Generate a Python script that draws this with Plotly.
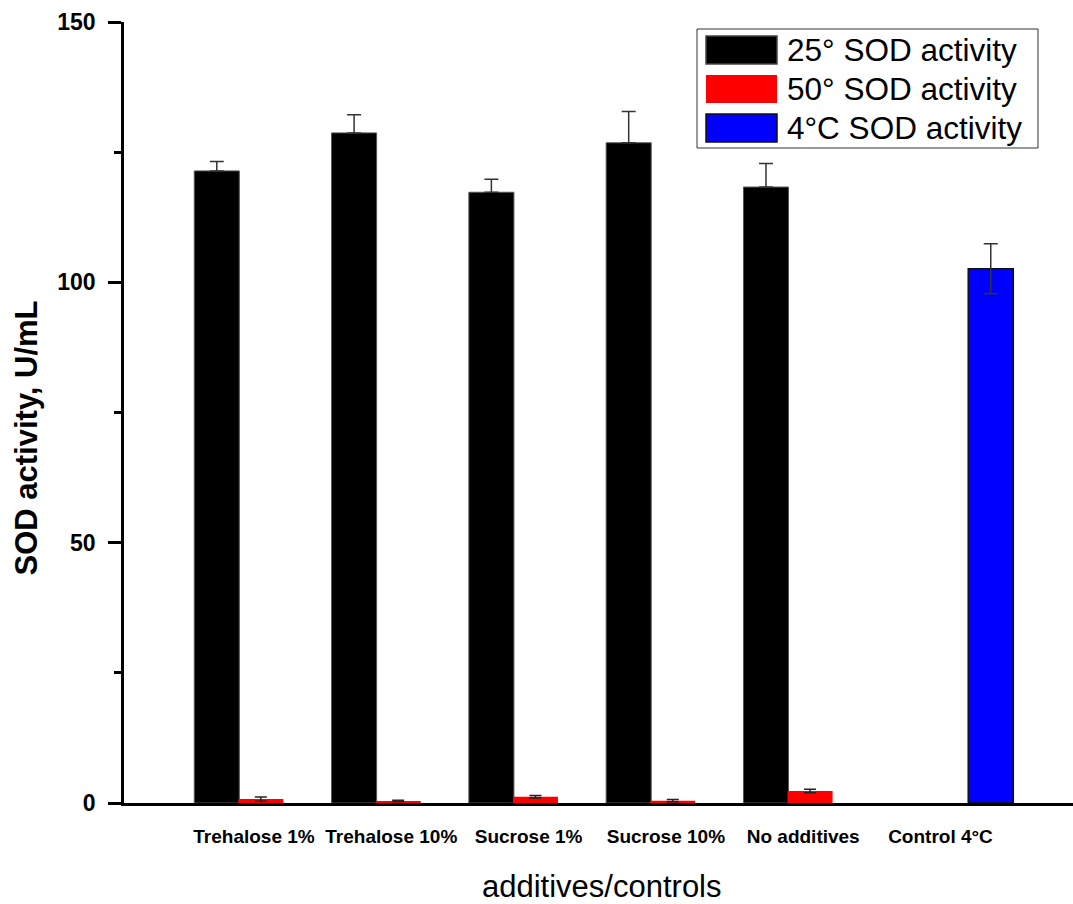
import plotly.graph_objects as go

# Sample groups on the category axis
categories = ["Trehalose 1%", "Trehalose 10%", "Sucrose 1%", "Sucrose 10%",
              "No additives", "Control 4°C"]

# SOD activity (U/mL) after storage at 25 °C, with standard deviations
sod_25 = [121.4, 128.7, 117.3, 126.8, 118.3]
sod_25_err = [1.8, 3.5, 2.5, 6.0, 4.5]

# SOD activity (U/mL) after storage at 50 °C, with standard deviations
sod_50 = [0.75, 0.4, 1.2, 0.45, 2.3]
sod_50_err = [0.4, 0.12, 0.25, 0.2, 0.35]

# Reference control kept at 4 °C
sod_4 = [102.6]
sod_4_err = [4.8]

legend_labels = ["25° SOD activity", "50° SOD activity", "4°C SOD activity"]

# Figure geometry (pixels)
W, H = 1073, 904
ML, MR, MT, MB = 124, 0, 22, 101
PW, PH = W - ML - MR, H - MT - MB

FONT = "Liberation Sans, Arial, sans-serif"
BAR_W = 0.328


def px(x):
    return (x - ML) / PW


def py(y):
    return (H - MB - y) / PH


idx_samples = list(range(len(sod_25)))
idx_control = [len(categories) - 1]

fig = go.Figure()
# 25 °C bars: only the upper whisker shows above the black fill
fig.add_trace(go.Bar(
    x=idx_samples, y=sod_25, width=BAR_W, offset=-0.435,
    marker=dict(color="black", line=dict(color="#555555", width=1)),
    error_y=dict(type="data", symmetric=False, array=sod_25_err,
                 arrayminus=[0] * len(sod_25_err), color="#333333",
                 thickness=1.5, width=7),
    name=legend_labels[0], showlegend=False,
))
fig.add_trace(go.Bar(
    x=idx_samples, y=sod_50, width=BAR_W, offset=-0.114,
    marker=dict(color="#ff0000", line=dict(width=0)),
    error_y=dict(type="data", array=sod_50_err, color="#222222",
                 thickness=1.5, width=6),
    name=legend_labels[1], showlegend=False,
))
fig.add_trace(go.Bar(
    x=idx_control, y=sod_4, width=BAR_W, offset=0.202,
    marker=dict(color="#0000ff", line=dict(color="#111111", width=1.5)),
    error_y=dict(type="data", array=sod_4_err, color="#333333",
                 thickness=1.5, width=7),
    name=legend_labels[2], showlegend=False,
))

# Hand-built legend box with swatches
shapes = [dict(type="rect", xref="paper", yref="paper",
               x0=px(697), x1=px(1038), y0=py(148), y1=py(29),
               line=dict(color="#333333", width=1), fillcolor="white",
               layer="above")]
swatches = [("black", "#444444", 1.5), ("#ff0000", None, 0), ("#0000ff", "#111111", 1.5)]
row_centers = [50, 89, 128]
annotations = []
for (fill, edge, lw), cy, label in zip(swatches, row_centers, legend_labels):
    shapes.append(dict(type="rect", xref="paper", yref="paper",
                       x0=px(706), x1=px(777), y0=py(cy + 14), y1=py(cy - 14),
                       fillcolor=fill,
                       line=dict(color=edge or fill, width=lw), layer="above"))
    annotations.append(dict(xref="paper", yref="paper", x=px(785), y=py(cy),
                            xanchor="left", yanchor="middle", showarrow=False,
                            text=label, font=dict(family=FONT, size=31.5, color="black")))

# Axis titles
annotations.append(dict(xref="paper", yref="paper", x=px(25.5), y=py(438),
                        xanchor="center", yanchor="middle", showarrow=False,
                        textangle=-90, text="SOD activity, U/mL",
                        font=dict(family=FONT, size=31, color="black", weight="bold")))
annotations.append(dict(xref="paper", yref="paper", x=px(602), y=py(886),
                        xanchor="center", yanchor="middle", showarrow=False,
                        text="additives/controls",
                        font=dict(family=FONT, size=31, color="black")))

unit = 137.3
x_lo = -(254 - ML) / unit
x_hi = x_lo + PW / unit

fig.update_layout(
    width=W, height=H,
    margin=dict(l=ML, r=MR, t=MT, b=MB, pad=0),
    paper_bgcolor="white", plot_bgcolor="white",
    barmode="overlay",
    showlegend=False,
    shapes=shapes,
    annotations=annotations,
    xaxis=dict(
        range=[x_lo, x_hi],
        tickvals=list(range(len(categories))), ticktext=categories,
        ticks="", showgrid=False, zeroline=False,
        showline=True, linecolor="black", linewidth=3,
        tickfont=dict(family=FONT, size=19, color="black", weight="bold"),
        ticklabelstandoff=14,
    ),
    yaxis=dict(
        range=[0, 150],
        tickvals=[0, 50, 100, 150],
        ticks="outside", ticklen=13, tickwidth=2.5, tickcolor="black",
        minor=dict(tickvals=[25, 75, 125], ticks="outside", ticklen=7,
                   tickwidth=2.5, tickcolor="black"),
        showgrid=False, zeroline=False,
        showline=True, linecolor="black", linewidth=2.7,
        tickfont=dict(family=FONT, size=23, color="black", weight="bold"),
        ticklabelstandoff=8,
    ),
)

fig.write_html("out.html")
